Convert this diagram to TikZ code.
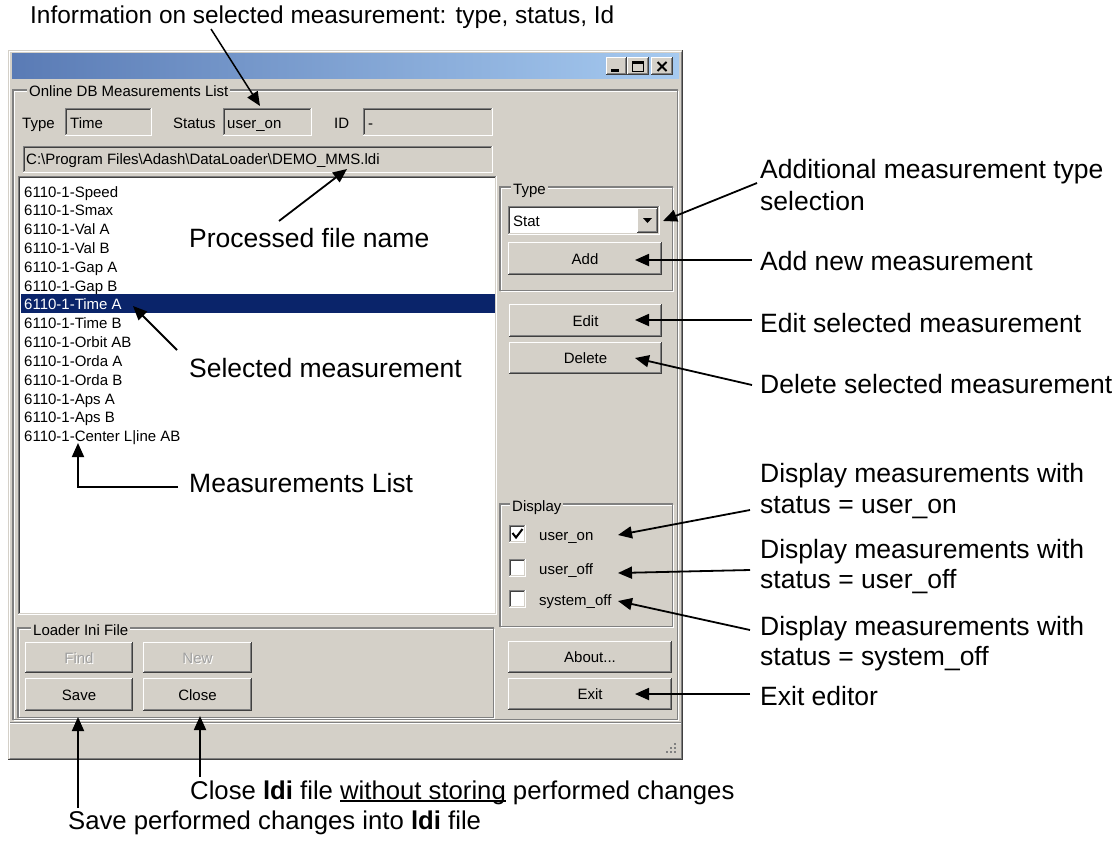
\documentclass[tikz,border=0pt]{standalone}
\usepackage{fontspec}
\setmainfont{Liberation Sans}
\usetikzlibrary{arrows.meta}
\definecolor{winface}{HTML}{D4D0C8}
\definecolor{winshadow}{HTML}{808080}
\definecolor{windark}{HTML}{404040}
\definecolor{selblue}{HTML}{0A246A}
\definecolor{tbl}{HTML}{5A7BB5}
\definecolor{tbr}{HTML}{A6CAF0}
\definecolor{disgray}{HTML}{A0A0A0}
\newcommand{\myul}[1]{\setbox0\hbox{#1}\rlap{\rule[-2.6pt]{\wd0}{1.3pt}}#1}
\newcommand{\rbtn}[5]{%
  \fill[winface] (#1,#2) rectangle (#3,#4);
  \draw[white,line width=1.2pt] (#1+0.6,#4-1) -- (#1+0.6,#2+0.6) -- (#3-1,#2+0.6);
  \draw[winshadow,line width=1.2pt] (#1+1.2,#4-1.8) -- (#3-1.8,#4-1.8) -- (#3-1.8,#2+1.2);
  \draw[windark,line width=1.2pt] (#1,#4-0.6) -- (#3-0.6,#4-0.6) -- (#3-0.6,#2);
  \coordinate (#5) at ({(#1+#3)/2},{(#2+#4)/2});
}
\newcommand{\sunk}[5]{%
  \fill[#5] (#1,#2) rectangle (#3,#4);
  \draw[winshadow,line width=1.2pt] (#1+0.6,#4) -- (#1+0.6,#2+0.6) -- (#3,#2+0.6);
  \draw[windark,line width=1.2pt] (#1+1.8,#4-1.2) -- (#1+1.8,#2+1.8) -- (#3-1.2,#2+1.8);
  \draw[white,line width=1.2pt] (#1,#4-0.6) -- (#3-0.6,#4-0.6) -- (#3-0.6,#2);
  \draw[winface,line width=1.2pt] (#1+1.2,#4-1.8) -- (#3-1.8,#4-1.8) -- (#3-1.8,#2+1.2);
}
\newcommand{\etch}[4]{%
  \draw[white,line width=1.2pt] (#1+1.2,#2+1.2) rectangle (#3+0.6,#4+0.6);
  \draw[winshadow,line width=1.2pt] (#1,#2) rectangle (#3-0.6,#4-0.6);
}
\begin{document}
\begin{tikzpicture}[x=1pt,y=-1pt,
  ui/.style={font=\fontsize{15}{18}\selectfont, inner sep=0pt, anchor=base west},
  uic/.style={font=\fontsize{15}{18}\selectfont, inner sep=0pt, anchor=base},
  lbl/.style={ui, fill=winface, inner xsep=2pt},
  ann/.style={font=\fontsize{26.5}{31}\selectfont, inner sep=0pt, anchor=base west},
  arr/.style={-{Triangle[length=14pt,width=12pt]}, line width=1.8pt}]
\useasboundingbox (0,0) rectangle (1118,854);
\fill[white] (0,0) rectangle (1118,854);

% window
\fill[winface] (8,50) rectangle (683,760);
\draw[white,line width=1.2pt] (9.8,758) -- (9.8,51.8) -- (681,51.8);
\draw[winshadow,line width=1.2pt] (9.8,758.2) -- (681.2,758.2) -- (681.2,51.8);
\draw[windark,line width=1.2pt] (8,759.4) -- (682.4,759.4) -- (682.4,50);
\shade[left color=tbl,right color=tbr] (12,53) rectangle (679,78);
\rbtn{606}{57}{627}{75}{bMin}
\rbtn{627}{57}{649}{75}{bMax}
\rbtn{651}{57}{673}{75}{bClose}
\fill[black] (611,69) rectangle (619,71.5);
\draw[black,line width=1pt] (632.5,61.5) rectangle (643.5,71.5);
\fill[black] (632,61) rectangle (644,63.5);
\draw[black,line width=1.8pt] (657.5,62) -- (666.5,71) (666.5,62) -- (657.5,71);

% main group
\etch{13}{90}{678}{720}
\node[lbl] (grpMain) at (27,96) {Online DB Measurements List};

% info fields
\node[ui] (lType) at (22,128) {Type};
\sunk{65}{108}{152}{136}{winface}
\node[ui] (fType) at (70,128) {Time};
\node[ui] (lStatus) at (173,128) {Status};
\sunk{223}{108}{312}{136}{winface}
\node[ui] (fStatus) at (227,128) {user\_on};
\node[ui] (lID) at (334,128) {ID};
\sunk{363}{108}{493}{136}{winface}
\node[ui] (fID) at (368,128) {-};
\sunk{23}{146}{493}{173}{winface}
\node[ui] (fPath) at (26,164) {C:\textbackslash Program Files\textbackslash Adash\textbackslash DataLoader\textbackslash DEMO\_MMS.ldi};

% list box
\sunk{18}{176}{497}{615}{white}
\fill[selblue] (20.5,294) rectangle (495,313);
\foreach \t [count=\i from 0] in {6110-1-Speed,6110-1-Smax,6110-1-Val A,6110-1-Val B,6110-1-Gap A,6110-1-Gap B,6110-1-Time A,6110-1-Time B,6110-1-Orbit AB,6110-1-Orda A,6110-1-Orda B,6110-1-Aps A,6110-1-Aps B,6110-1-Center L|ine AB}{
  \ifnum\i=6
    \node[ui,text=white] (li\i) at (24,{197+\i*18.83}) {\t};
  \else
    \node[ui] (li\i) at (24,{197+\i*18.83}) {\t};
  \fi
}

% Type group
\etch{500}{187}{673}{291}
\node[lbl] (grpType) at (511,194) {Type};
\sunk{508}{206}{660}{235}{white}
\node[ui] (combo) at (513,226) {Stat};
\rbtn{637}{208}{658}{233}{cbBtn}
\fill[black] (643,218) -- (652,218) -- (647.5,223) -- cycle;
\rbtn{508}{242}{662}{275}{bAdd}
\node[uic] (tAdd) at (585,264) {Add};
\rbtn{509}{304}{662}{337}{bEdit}
\node[uic] (tEdit) at (585.5,326) {Edit};
\rbtn{509}{342}{662}{374}{bDel}
\node[uic] (tDel) at (585.5,363.5) {Delete};

% Display group
\etch{500}{504}{673}{627}
\node[lbl] (grpDisp) at (510,511) {Display};
\sunk{509}{525}{526}{543}{white}
\draw[black,line width=2pt] (512.5,533) -- (516,537.5) -- (522.5,529);
\node[ui] (cOn) at (539,540) {user\_on};
\sunk{509}{559}{526}{577}{white}
\node[ui] (cOff) at (539,574) {user\_off};
\sunk{509}{590}{526}{608}{white}
\node[ui] (cSys) at (539,605) {system\_off};

% About / Exit
\rbtn{508}{641}{672}{673}{bAbout}
\node[uic] (tAbout) at (590,662.5) {About...};
\rbtn{508}{678}{672}{710}{bExit}
\node[uic] (tExit) at (590,699.5) {Exit};

% Loader group
\etch{18}{628}{494}{718}
\node[lbl] (grpLoad) at (31,635) {Loader Ini File};
\rbtn{25}{642}{133}{673}{bFind}
\node[uic,text=white] at (80,664) {Find};
\node[uic,text=disgray] (tFind) at (79,663) {Find};
\rbtn{143}{642}{252}{673}{bNew}
\node[uic,text=white] at (198.5,664) {New};
\node[uic,text=disgray] (tNew) at (197.5,663) {New};
\rbtn{25}{678}{133}{711}{bSave}
\node[uic] (tSave) at (79,700) {Save};
\rbtn{143}{678}{252}{711}{bCloseF}
\node[uic] (tClose) at (197.5,700) {Close};

% status bar
\draw[winshadow,line width=1pt] (10,722.5) -- (681,722.5);
\draw[white,line width=1pt] (10,723.5) -- (681,723.5);
\foreach \p in {(674,743),(670,747),(674,747),(666,751),(670,751),(674,751)}{
  \fill[white] \p ++(0.8,0.8) rectangle ++(1.6,1.6);
  \fill[winshadow] \p rectangle ++(1.6,1.6);
}

% annotations
\node[font=\fontsize{24.4}{29}\selectfont, inner sep=0pt, anchor=base west] (aInfo) at (30,23) {Information on selected measurement: type, status, Id};
\coordinate (infoFrom) at (211,29);
\coordinate (infoTip) at (260,106);
\draw[arr, line width=1.5pt] (infoFrom) -- (infoTip);

\node[ann] (aProc) at (189,247) {Processed file name};
\coordinate (procFrom) at (279,221);
\coordinate (procTip) at (347,169);
\draw[arr] (procFrom) -- (procTip);

\node[ann] (aSel) at (189,377) {Selected measurement};
\coordinate (selFrom) at (177,350);
\coordinate (selTip) at (133,306);
\draw[arr] (selFrom) -- (selTip);

\node[ann] (aList) at (189,492) {Measurements List};
\coordinate (listFrom) at (178,487);
\coordinate (listTip) at (78,443);
\draw[arr] (listFrom) -- (78,487) -- (listTip);

\node[ann] (aType1) at (760,178) {Additional measurement type};
\node[ann] (aType2) at (760,210) {selection};
\coordinate (typeFrom) at (757,183);
\coordinate (typeTip) at (663,221);
\draw[arr] (typeFrom) -- (typeTip);

\node[ann] (aAdd) at (760,270) {Add new measurement};
\coordinate (addFrom) at (752,260);
\coordinate (addTip) at (635,260);
\draw[arr] (addFrom) -- (addTip);

\node[ann] (aEdit) at (760,332) {Edit selected measurement};
\coordinate (editFrom) at (752,320);
\coordinate (editTip) at (635,320);
\draw[arr] (editFrom) -- (editTip);

\node[ann] (aDel) at (760,393) {Delete selected measurement};
\coordinate (delFrom) at (752,385);
\coordinate (delTip) at (635,358);
\draw[arr] (delFrom) -- (delTip);

\node[ann] (aOn1) at (760,482) {Display measurements with};
\node[ann] (aOn2) at (760,513) {status = user\_on};
\coordinate (onFrom) at (750,510);
\coordinate (onTip) at (618,535);
\draw[arr] (onFrom) -- (onTip);

\node[ann] (aOff1) at (760,558) {Display measurements with};
\node[ann] (aOff2) at (760,588) {status = user\_off};
\coordinate (offFrom) at (750,570);
\coordinate (offTip) at (618,573);
\draw[arr] (offFrom) -- (offTip);

\node[ann] (aSys1) at (760,635) {Display measurements with};
\node[ann] (aSys2) at (760,665) {status = system\_off};
\coordinate (sysFrom) at (750,630);
\coordinate (sysTip) at (618,601);
\draw[arr] (sysFrom) -- (sysTip);

\node[ann] (aExit) at (760,705) {Exit editor};
\coordinate (exitFrom) at (750,694);
\coordinate (exitTip) at (635,694);
\draw[arr] (exitFrom) -- (exitTip);

\node[font=\fontsize{25.7}{30}\selectfont, inner sep=0pt, anchor=base west] (aCloseT) at (190,799) {Close \textbf{ldi} file \myul{without storing} performed changes};
\coordinate (closeFrom) at (200,777);
\coordinate (closeTip) at (200,716);
\draw[arr] (closeFrom) -- (closeTip);

\node[font=\fontsize{25.7}{30}\selectfont, inner sep=0pt, anchor=base west] (aSaveT) at (68,829) {Save performed changes into \textbf{ldi} file};
\coordinate (saveFrom) at (78,808);
\coordinate (saveTip) at (78,717);
\draw[arr] (saveFrom) -- (saveTip);
\end{tikzpicture}
\end{document}
